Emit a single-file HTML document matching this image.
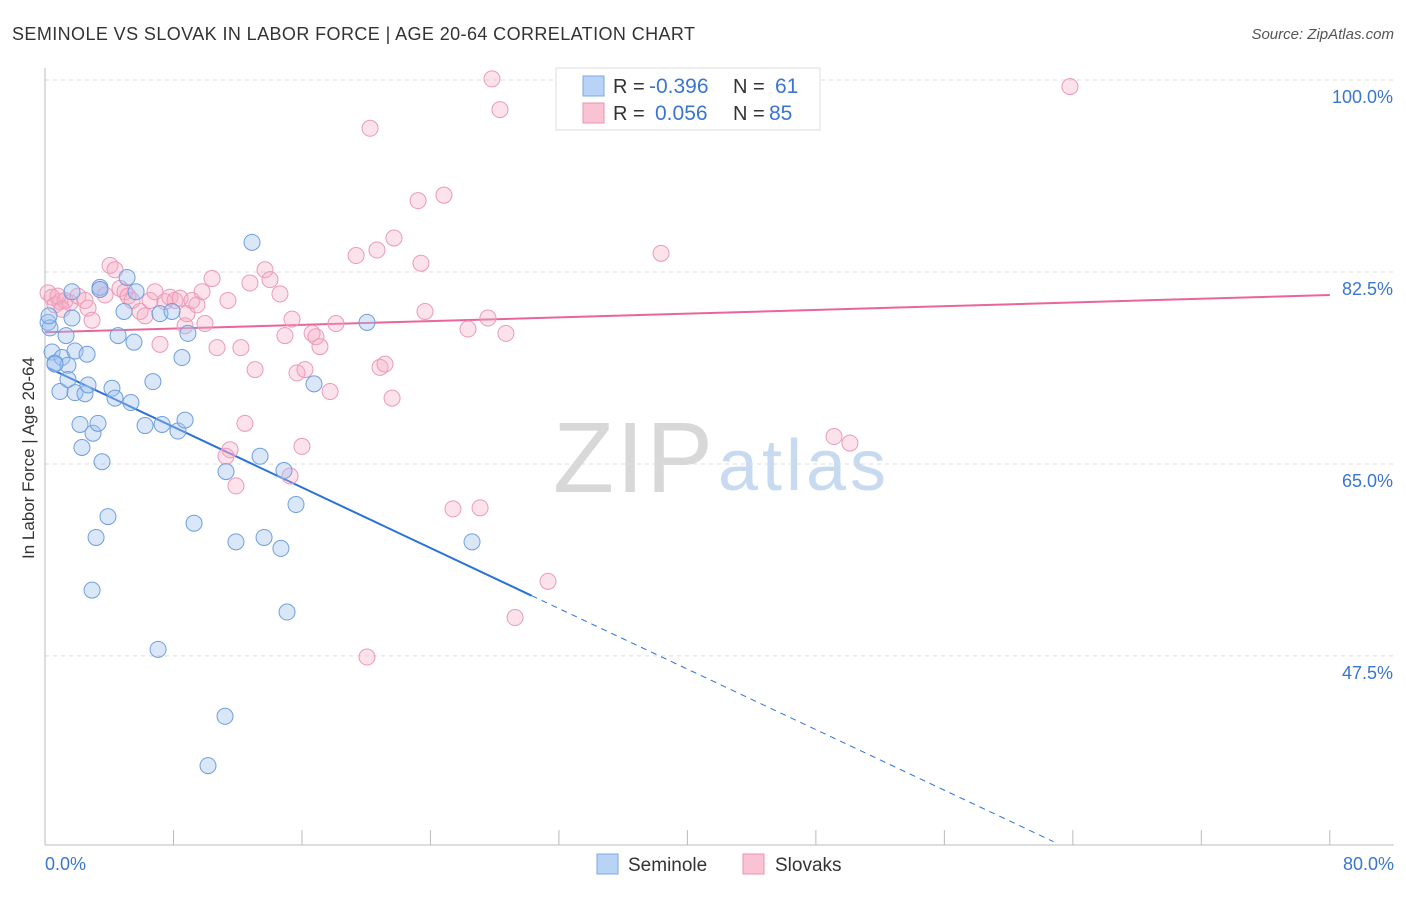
<!DOCTYPE html>
<html><head><meta charset="utf-8"><style>
body{margin:0;background:#fff;font-family:"Liberation Sans",sans-serif;}
svg text{font-family:"Liberation Sans",sans-serif;}
</style></head><body>
<svg id="chart" width="1406" height="892" xmlns="http://www.w3.org/2000/svg">
<text x="12" y="40" font-size="18" fill="#333" textLength="683">SEMINOLE VS SLOVAK IN LABOR FORCE | AGE 20-64 CORRELATION CHART</text>
<text x="1394" y="39" font-size="15" fill="#555" font-style="italic" text-anchor="end">Source: ZipAtlas.com</text>
<text x="34" y="458" font-size="17" fill="#333" text-anchor="middle" transform="rotate(-90 34 458)">In Labor Force | Age 20-64</text>
<g><text x="553" y="492" font-size="100" font-family="Liberation Serif" fill="#d8d8d8" textLength="160">ZIP</text><text x="718" y="490" font-size="72" fill="#c8daf0" textLength="168">atlas</text></g>
<g id="grid"></g><g id="trend"></g><g id="pts"></g>
<g>
<rect x="556" y="68" width="264" height="62" fill="#fff" stroke="#ddd"/>
<rect x="583" y="76" width="21" height="20" fill="#b8d3f5" stroke="#7aa8e6"/>
<rect x="583" y="103" width="21" height="20" fill="#f9c3d4" stroke="#ec93b2"/>
<text x="613" y="93" font-size="20" fill="#333">R = </text><text x="649" y="93" font-size="21" fill="#3a76d0">-0.396</text>
<text x="733" y="93" font-size="20" fill="#333">N = </text><text x="775" y="93" font-size="21" fill="#3a76d0">61</text>
<text x="613" y="120" font-size="20" fill="#333">R = </text><text x="655" y="120" font-size="21" fill="#3a76d0">0.056</text>
<text x="733" y="120" font-size="20" fill="#333">N = </text><text x="769" y="120" font-size="21" fill="#3a76d0">85</text>
</g>
<g>
<rect x="597" y="854" width="21" height="20" fill="#b8d3f5" stroke="#7aa8e6"/><text x="628" y="871" font-size="19" fill="#333">Seminole</text>
<rect x="743" y="854" width="21" height="20" fill="#f9c3d4" stroke="#ec93b2"/><text x="775" y="871" font-size="19" fill="#333">Slovaks</text>
</g>
</svg>
<script>
const xTicks=[0,8,16,24,32,40,48,56,64,72,80];
const yTicks=[100,82.5,65,47.5];
const yTickLabels=["100.0%","82.5%","65.0%","47.5%"];
const xTickLabels=["0.0%","80.0%"];
const seminoleX=[0.19,0.31,0.44,0.62,1.06,1.31,1.43,0.93,1.43,1.68,1.68,1.87,1.87,2.18,2.30,2.49,2.62,2.68,2.99,3.30,3.42,3.55,3.92,4.17,4.36,3.18,2.93,4.55,4.92,5.11,5.35,5.54,5.67,6.23,6.72,7.04,7.16,7.29,7.91,8.28,8.53,8.72,8.90,9.28,10.15,11.21,11.27,11.89,12.89,13.39,13.64,14.69,14.88,15.07,15.63,16.75,20.05,26.59,0.62,0.25,3.42];
const seminoleY=[77.9,77.4,75.2,74.2,74.7,76.7,74.0,71.6,72.7,78.3,80.7,71.5,75.3,68.6,66.5,71.4,75.0,72.2,67.8,68.7,81.1,65.2,60.2,71.9,71.0,58.3,53.5,76.7,78.9,82.0,70.6,76.1,80.7,68.5,72.5,48.1,78.7,68.6,78.9,68.0,74.7,69.0,76.9,59.6,37.5,42.0,64.3,57.9,85.2,65.7,58.3,57.3,64.4,51.5,61.3,72.3,77.9,57.9,74.1,78.5,80.9];
const slovakX=[0.19,0.44,0.62,0.93,1.25,1.56,2.05,2.49,2.68,2.93,3.42,3.74,4.05,4.36,4.67,4.98,5.17,5.42,5.92,6.23,6.54,6.85,7.16,7.47,7.78,8.09,8.41,8.72,8.84,9.15,9.46,9.78,9.96,10.40,10.71,11.39,11.52,11.89,12.20,12.45,12.76,13.08,13.70,14.01,14.63,14.94,15.38,15.69,16.19,16.00,16.63,16.87,17.12,17.75,18.12,19.37,20.05,20.24,20.67,20.86,21.17,21.61,21.73,23.23,23.41,23.66,24.84,25.40,26.34,27.09,27.58,27.83,28.33,28.70,29.27,31.32,38.36,42.96,49.13,50.12,63.82,0.81,1.06,15.26,11.27];
const slovakY=[80.6,80.2,79.5,79.8,79.9,79.7,80.3,79.9,79.2,78.1,80.9,80.4,83.1,82.7,81.0,80.7,80.3,79.9,78.9,78.5,79.9,80.7,75.9,79.8,80.2,79.9,80.1,77.6,78.7,79.9,79.5,80.7,77.8,81.9,75.6,79.9,66.3,63.0,75.6,68.7,81.5,73.6,82.7,81.8,80.5,76.7,78.2,73.3,73.6,66.6,76.9,76.6,75.7,71.6,77.8,84.0,47.4,95.6,84.5,73.8,74.1,71.0,85.6,89.0,83.3,78.9,89.5,60.9,77.3,61.0,78.3,100.1,97.3,76.9,51.0,54.3,84.2,100.0,67.5,66.9,99.4,80.3,79.1,63.9,65.7];
const seminoleTrend=[73.9,-0.69];
const slovakTrend=[77.0,0.0425];
const xs=v=>45+v*16.06, ys=v=>80+(100-v)*10.97;
const NS="http://www.w3.org/2000/svg";
function mk(t,a,p){const e=document.createElementNS(NS,t);for(const k in a)e.setAttribute(k,a[k]);p.appendChild(e);return e;}
const g=document.getElementById('grid');
yTicks.forEach((t,i)=>{
 const l=mk('line',{x1:45,x2:1394,y1:ys(t),y2:ys(t),stroke:'#ddd','stroke-dasharray':'4,4'},g);
 
 
 const tx=mk('text',{x:1393,y:ys(t)+23,'font-size':18,fill:'#3a76d0','text-anchor':'end'},g);tx.textContent=yTickLabels[i];
 
 
});
mk('line',{x1:45,x2:45,y1:68,y2:845,stroke:'#bbb'},g);
mk('line',{x1:45,x2:1394,y1:845,y2:845,stroke:'#bbb'},g);
xTicks.forEach(t=>{const l=mk('line',{x1:xs(t),x2:xs(t),y1:830,y2:845,stroke:'#bbb'},g);
 
 });
const t0=mk('text',{x:45,y:870,'font-size':18,fill:'#3a76d0'},g);t0.textContent=xTickLabels[0];


const t1=mk('text',{x:1394,y:870,'font-size':18,fill:'#3a76d0','text-anchor':'end'},g);t1.textContent=xTickLabels[1];


const p=document.getElementById('pts');
slovakX.forEach((x,i)=>{const c=mk('circle',{cx:xs(x),cy:ys(slovakY[i]),r:8,fill:'rgba(246,172,198,0.35)',stroke:'#ec9ab7','stroke-width':1},p);
 
 });
seminoleX.forEach((x,i)=>{const c=mk('circle',{cx:xs(x),cy:ys(seminoleY[i]),r:8,fill:'rgba(160,196,240,0.4)',stroke:'#6f9fe0','stroke-width':1},p);
 
 });
const tr=document.getElementById('trend');
const f=(c,x)=>c[0]+c[1]*x;
const b1=mk('line',{x1:xs(0.19),y1:ys(f(seminoleTrend,0.19)),x2:xs(30.3),y2:ys(f(seminoleTrend,30.3)),stroke:'#2a72d8','stroke-width':2},tr);


const b2=mk('line',{x1:xs(30.3),y1:ys(f(seminoleTrend,30.3)),x2:xs(62.8),y2:ys(f(seminoleTrend,62.8)),stroke:'#2a72d8','stroke-width':1,'stroke-dasharray':'6,5'},tr);


const pl=mk('line',{x1:xs(0),y1:ys(f(slovakTrend,0)),x2:xs(80),y2:ys(f(slovakTrend,80)),stroke:'#e8669a','stroke-width':2},tr);


</script>
</body></html>
